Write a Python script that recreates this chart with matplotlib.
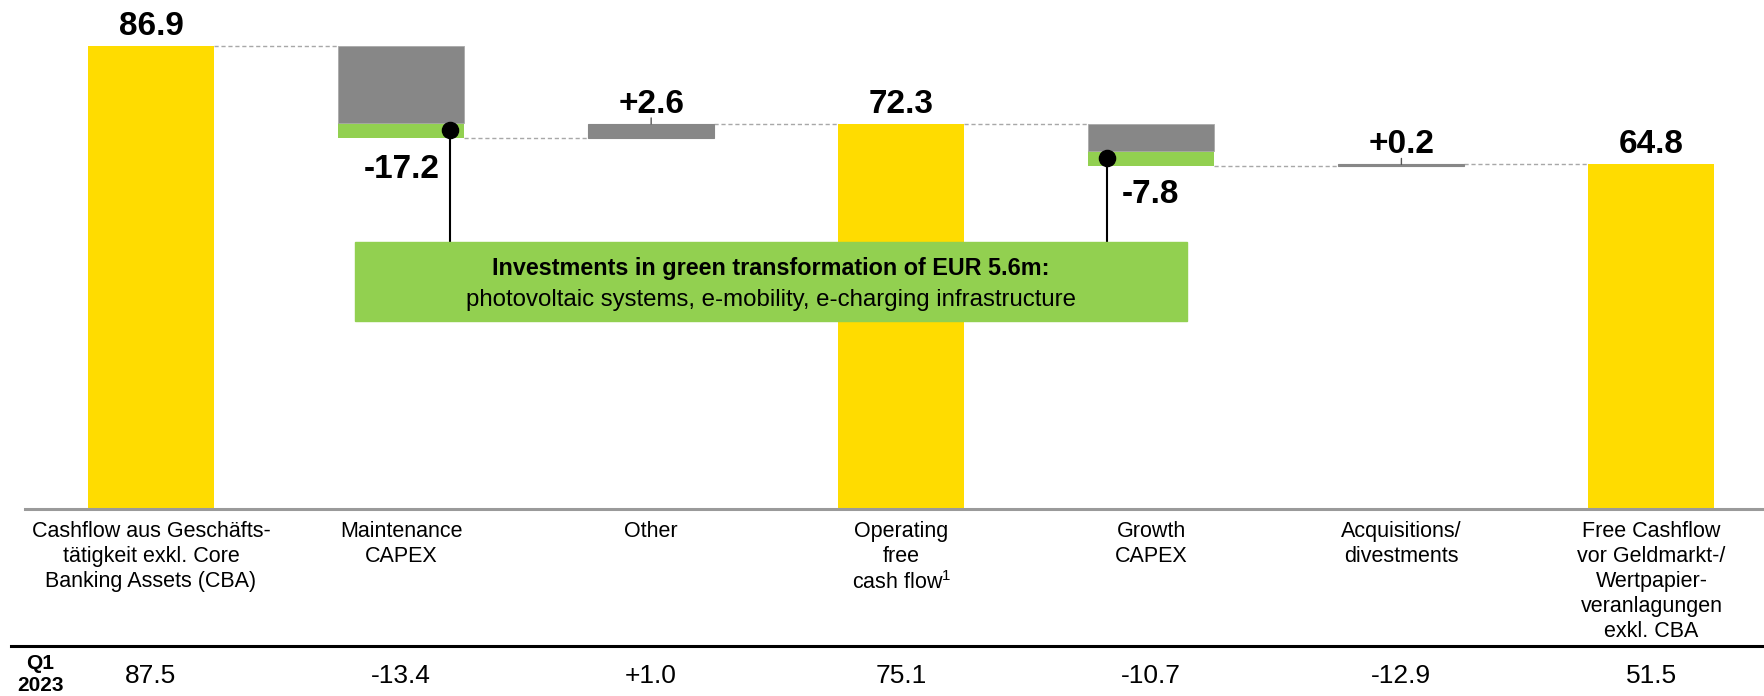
import matplotlib
matplotlib.use("Agg")
import matplotlib.pyplot as plt
from matplotlib import font_manager
from matplotlib.lines import Line2D
from matplotlib.patches import Rectangle
from matplotlib.transforms import blended_transform_factory

# ---- data ---------------------------------------------------------------
categories = [
    "Cashflow aus Geschäfts-\ntätigkeit exkl. Core\nBanking Assets (CBA)",
    "Maintenance\nCAPEX",
    "Other",
    "Operating\nfree\ncash flow$^{1}$",
    "Growth\nCAPEX",
    "Acquisitions/\ndivestments",
    "Free Cashflow\nvor Geldmarkt-/\nWertpapier-\nveranlagungen\nexkl. CBA",
]
kinds = ["total", "delta", "delta", "total", "delta", "delta", "total"]
values = [86.9, -17.2, 2.6, 72.3, -7.8, 0.2, 64.8]
green_share = [0.0, 2.8, 0.0, 0.0, 2.8, 0.0, 0.0]
value_labels = ["86.9", "-17.2", "+2.6", "72.3", "-7.8", "+0.2", "64.8"]
prior_period = "Q1\n2023"
prior_values = ["87.5", "-13.4", "+1.0", "75.1", "-10.7", "-12.9", "51.5"]
callout_title = "Investments in green transformation of EUR 5.6m:"
callout_text = "photovoltaic systems, e-mobility, e-charging infrastructure"

# ---- style --------------------------------------------------------------
YELLOW = "#FFDC00"
GREY = "#878787"
GREEN = "#92D050"
CONNECT = "#A8A8A8"


def pick_font(*names):
    avail = {f.name for f in font_manager.fontManager.ttflist}
    for n in names:
        if n in avail:
            return n
    return "DejaVu Sans"


FONT = pick_font("Liberation Sans", "Arial")
plt.rcParams["font.family"] = [FONT, "DejaVu Sans"]
plt.rcParams["mathtext.fontset"] = "custom"
plt.rcParams["mathtext.rm"] = FONT
plt.rcParams["mathtext.it"] = FONT
plt.rcParams["mathtext.default"] = "regular"

W, H = 1764, 696
fig = plt.figure(figsize=(W / 100, H / 100), dpi=100)

base_px = 509.3          # baseline, pixels from top
unit_px = 5.33           # pixels per EUR m
x0_px, step_px = 151.0, 250.08
bar_w = 126 / step_px

ax = fig.add_axes([0, 1 - base_px / H, 1, base_px / H])
ax.set_xlim(-x0_px / step_px, (W - x0_px) / step_px)
ax.set_ylim(0, base_px / unit_px)
ax.axis("off")


def fy(px_from_top):
    return 1 - px_from_top / H


below = blended_transform_factory(ax.transData, fig.transFigure)

# ---- waterfall bars -----------------------------------------------------
level = 0.0
tops, bottoms, ends = [], [], []
for i, (kind, v, g) in enumerate(zip(kinds, values, green_share)):
    if kind == "total":
        ax.bar(i, v, width=bar_w, bottom=0, color=YELLOW, zorder=2)
        lo, hi, level = 0.0, v, v
    else:
        start, end = level, level + v
        lo, hi = min(start, end), max(start, end)
        if g > 0:
            ax.bar(i, g, width=bar_w, bottom=lo, color=GREEN, zorder=2)
            ax.bar(i, hi - lo - g, width=bar_w, bottom=lo + g, color=GREY,
                   edgecolor="#A9A9A9", linewidth=0.6, zorder=2)
        else:
            ax.bar(i, hi - lo, width=bar_w, bottom=lo, color=GREY,
                   edgecolor=GREY, linewidth=0.8, zorder=2)
        level = end
    tops.append(hi)
    bottoms.append(lo)
    ends.append(level)

# dashed connectors between neighbouring bars
for i in range(len(values) - 1):
    ax.plot([i + bar_w / 2, i + 1 - bar_w / 2], [ends[i], ends[i]],
            color=CONNECT, lw=1.0, dashes=(3, 2), zorder=1)

# baseline
ax.axhline(0, xmin=25 / W, xmax=1, color="#9A9A9A", lw=2.2, clip_on=False, zorder=3)

# ---- value labels -------------------------------------------------------
callout_bars = [i for i, g in enumerate(green_share) if g > 0]
for i, lab in enumerate(value_labels):
    if i in callout_bars:
        continue
    ax.annotate(lab, xy=(i, tops[i]), xytext=(0, 11), textcoords="offset pixels",
                ha="center", va="baseline", fontsize=24, fontweight="bold")
    if kinds[i] == "delta":
        ax.annotate("", xy=(i, tops[i]), xytext=(0, 6), textcoords="offset pixels",
                    arrowprops=dict(arrowstyle="-", lw=1.0, color="#555555",
                                    shrinkA=0, shrinkB=0))

# ---- green-investment callout ------------------------------------------
box_l, box_r = (355 - x0_px) / step_px, (1187 - x0_px) / step_px
box_top, box_bot = (base_px - 242) / unit_px, (base_px - 321) / unit_px
ax.add_patch(Rectangle((box_l, box_bot), box_r - box_l, box_top - box_bot,
                       color=GREEN, zorder=4))
box_cx = (box_l + box_r) / 2
ax.text(box_cx, (base_px - 268) / unit_px, callout_title, ha="center", va="center",
        fontsize=16.8, fontweight="bold", zorder=5)
ax.text(box_cx, (base_px - 300) / unit_px, callout_text, ha="center", va="center",
        fontsize=17.3, zorder=5)

dot_offsets = {1: bar_w / 2 - 14 / step_px, 4: -bar_w / 2 + 19 / step_px}
label_side = {1: ("right", -10, -40), 4: ("left", 14, -37)}
for i in callout_bars:
    dx = i + dot_offsets[i]
    dy = bottoms[i] + green_share[i] / 2
    ax.plot([dx, dx], [dy, box_top], color="black", lw=1.5, zorder=3)
    ax.scatter([dx], [dy], s=135, color="black", zorder=6)
    ha, ox, oy = label_side[i]
    ax.annotate(value_labels[i], xy=(dx, bottoms[i]), xytext=(ox, oy),
                textcoords="offset pixels", ha=ha, va="baseline",
                fontsize=24, fontweight="bold")

# ---- category labels & prior-year row ----------------------------------
for i, cat in enumerate(categories):
    ax.text(i, fy(521), cat, transform=below, ha="center", va="top",
            fontsize=15.5, linespacing=1.25)
    ax.text(i, fy(676), prior_values[i], transform=below, ha="center",
            va="center", fontsize=19)

fig.add_artist(Line2D([11 / W, 1], [fy(646), fy(646)], transform=fig.transFigure,
                      color="black", lw=2.2))
fig.text(40 / W, fy(674.5), prior_period, ha="center", va="center",
         fontsize=15, fontweight="bold", linespacing=1.2)

fig.savefig("out.png", dpi=100)
